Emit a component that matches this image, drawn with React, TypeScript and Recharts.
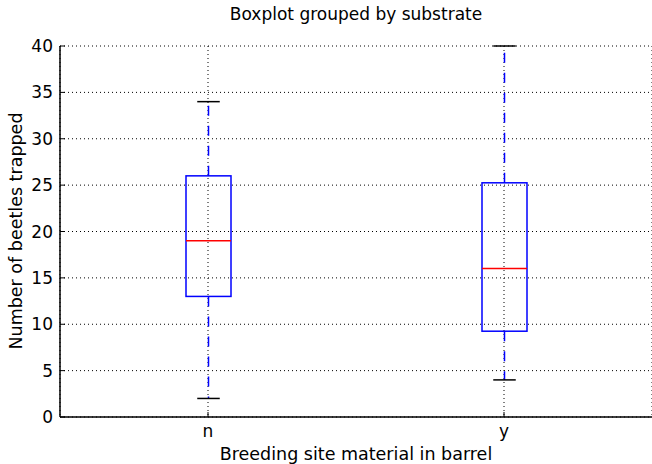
import { Bar, CartesianGrid, ComposedChart, XAxis, YAxis } from "recharts"

const categories = ["n", "y"]
const whiskerLow = [2, 4]
const quartile1 = [13, 9.25]
const medians = [19, 16]
const quartile3 = [26, 25.25]
const whiskerHigh = [34, 40]
const yTicks = [0, 5, 10, 15, 20, 25, 30, 35, 40]

const FONT = "'DejaVu Sans', sans-serif"
const BOX_COLOR = "#0000ff"
const MEDIAN_COLOR = "#ff0000"

const data = categories.map((c, i) => ({
	substrate: c,
	range: [whiskerLow[i], whiskerHigh[i]],
	min: whiskerLow[i],
	q1: quartile1[i],
	median: medians[i],
	q3: quartile3[i],
	max: whiskerHigh[i],
}))

// ranged bar gives pixel span of [min, max]; other stats are mapped inside that span
function BoxShape(props: any) {
	const { x, y, width, height, payload } = props
	const top = Math.min(y, y + height)
	const bottom = Math.max(y, y + height)
	const px = (v: number) => bottom - ((v - payload.min) / (payload.max - payload.min)) * (bottom - top)
	const cx = x + width / 2
	const capHalf = width / 4
	return (
		<g>
			<line x1={cx} x2={cx} y1={px(payload.q3)} y2={px(payload.max)} stroke={BOX_COLOR} strokeWidth={1.5} strokeDasharray="10 10" />
			<line x1={cx} x2={cx} y1={px(payload.q1)} y2={px(payload.min)} stroke={BOX_COLOR} strokeWidth={1.5} strokeDasharray="10 10" />
			<line x1={cx - capHalf} x2={cx + capHalf} y1={px(payload.max)} y2={px(payload.max)} stroke="#000" strokeWidth={1.5} />
			<line x1={cx - capHalf} x2={cx + capHalf} y1={px(payload.min)} y2={px(payload.min)} stroke="#000" strokeWidth={1.5} />
			<rect x={x} y={px(payload.q3)} width={width} height={px(payload.q1) - px(payload.q3)} fill="none" stroke={BOX_COLOR} strokeWidth={1.5} />
			<line x1={x} x2={x + width} y1={px(payload.median)} y2={px(payload.median)} stroke={MEDIAN_COLOR} strokeWidth={1.5} />
		</g>
	)
}

const tickStyle = { fontSize: 17, fill: "#000", fontFamily: FONT }
const axisLine = { stroke: "#000", strokeWidth: 1.5 }
const tickLine = { stroke: "#000", strokeWidth: 1 }

export default function App() {
	return (
		<div style={{ position: "absolute", left: 0, top: 0, width: 652, height: 464, overflow: "hidden", background: "#fff", fontFamily: FONT }}>
			<ComposedChart
				width={660}
				height={464}
				data={data}
				margin={{ top: 46, right: 8, left: 0, bottom: 0 }}
			>
				<CartesianGrid stroke="#000" strokeDasharray="1 3" strokeWidth={1} />
				<XAxis
					dataKey="substrate"
					height={47}
					tick={tickStyle}
					axisLine={axisLine}
					tickLine={tickLine}
					tickSize={-5}
					tickMargin={13}
				/>
				<XAxis
					xAxisId="top"
					dataKey="substrate"
					orientation="top"
					height={0}
					axisLine={axisLine}
					tickLine={tickLine}
					tickSize={-5}
					tickFormatter={() => ""}
				/>
				<YAxis
					domain={[0, 40]}
					ticks={yTicks}
					width={60}
					tick={tickStyle}
					axisLine={axisLine}
					tickLine={tickLine}
					tickSize={-5}
					tickMargin={12}
				/>
				<YAxis
					yAxisId="right"
					orientation="right"
					domain={[0, 40]}
					ticks={yTicks}
					width={0}
					axisLine={axisLine}
					tickLine={tickLine}
					tickSize={-5}
					tickFormatter={() => ""}
				/>
				<Bar dataKey="range" barSize={45} shape={<BoxShape />} isAnimationActive={false} />
			</ComposedChart>
			<div style={{ position: "absolute", left: 60, width: 592, top: 4, textAlign: "center", fontSize: 17, color: "#000" }}>
				Boxplot grouped by substrate
			</div>
			<div style={{ position: "absolute", left: 60, width: 592, top: 444, textAlign: "center", fontSize: 17.5, color: "#000" }}>
				Breeding site material in barrel
			</div>
			<div
				style={{
					position: "absolute",
					left: 16,
					top: 231,
					transform: "translate(-50%, -50%) rotate(-90deg)",
					whiteSpace: "nowrap",
					fontSize: 17.5,
					color: "#000",
				}}
			>
				Number of beetles trapped
			</div>
		</div>
	)
}
